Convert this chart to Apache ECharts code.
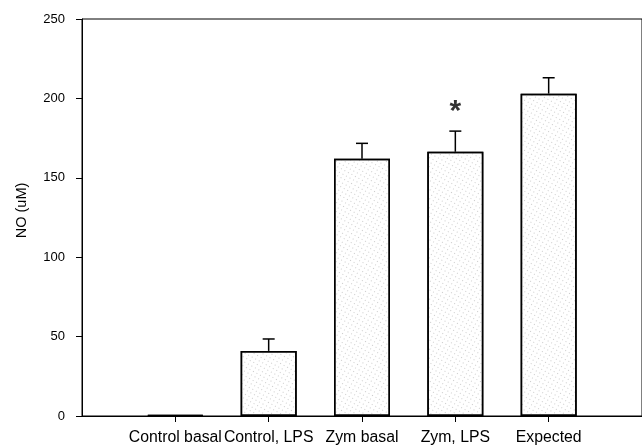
<!DOCTYPE html>
<html>
<head>
<meta charset="utf-8">
<script src="https://cdn.jsdelivr.net/npm/echarts@6/dist/echarts.min.js"></script>
<style>html,body{margin:0;padding:0;background:#fff}#c{width:642px;height:447px}</style>
</head>
<body>
<div id="c"></div>
<script>
const categories = ['Control basal', 'Control, LPS', 'Zym basal', 'Zym, LPS', 'Expected'];
const means = [0.6, 41, 162, 166.4, 203];
const upperErrors = [0, 7.5, 9.7, 13, 10];
const yTicks = [0, 50, 100, 150, 200, 250];
const starCategory = 'Zym, LPS';
const starValue = 196;

const axisCats = [''].concat(categories, ['']);
const barData = [null].concat(means, [null]);
const errData = categories.map((c, i) => [c, means[i], means[i] + upperErrors[i]]).filter((d, i) => upperErrors[i] > 0);
const font = "'Liberation Sans', Arial, sans-serif";

const chart = echarts.init(document.getElementById('c'));
chart.setOption({
  animation: false,
  backgroundColor: '#fff',
  grid: { left: 82, right: -4, top: 19, bottom: 31, show: true, borderColor: '#000', borderWidth: 1, backgroundColor: 'transparent' },
  xAxis: {
    type: 'category',
    data: axisCats,
    boundaryGap: false,
    axisLine: { lineStyle: { color: '#000', width: 1 } },
    axisTick: { length: 6, lineStyle: { color: '#000' }, interval: (i, v) => v !== '' },
    axisLabel: { interval: (i, v) => v !== '', color: '#000', fontSize: 15.8, fontFamily: font, margin: 14 },
    splitLine: { show: false }
  },
  yAxis: {
    type: 'value',
    min: yTicks[0], max: yTicks[yTicks.length - 1], interval: 50,
    name: 'NO (uM)',
    nameLocation: 'middle',
    nameGap: 53,
    nameTextStyle: { color: '#000', fontSize: 14.5, fontFamily: font, padding: [0, 0, 0, 14] },
    axisLine: { show: true, lineStyle: { color: '#000', width: 1 } },
    axisTick: { show: true, length: 6, lineStyle: { color: '#000' } },
    axisLabel: { color: '#000', fontSize: 13, fontFamily: font, margin: 17 },
    splitLine: { show: false }
  },
  series: [
    {
      type: 'bar',
      data: barData,
      barWidth: 56,
      itemStyle: {
        color: '#fff',
        borderColor: '#000',
        borderWidth: 1.5,
        decal: { symbol: 'rect', symbolSize: 1, dashArrayX: [1, 3], dashArrayY: [1, 3], rotation: 0.5, color: 'rgba(110,110,110,0.35)' }
      },
      z: 2
    },
    {
      type: 'custom',
      data: errData,
      z: 3,
      renderItem: function (params, api) {
        const base = api.coord([api.value(0), api.value(1)]);
        const top = api.coord([api.value(0), api.value(2)]);
        const hw = 6;
        return {
          type: 'group',
          children: [
            { type: 'line', shape: { x1: base[0], y1: base[1], x2: top[0], y2: top[1] }, style: { stroke: '#000', lineWidth: 1.5 } },
            { type: 'line', shape: { x1: top[0] - hw, y1: top[1], x2: top[0] + hw, y2: top[1] }, style: { stroke: '#000', lineWidth: 1.5 } }
          ]
        };
      }
    },
    {
      type: 'scatter',
      data: [[starCategory, starValue]],
      symbolSize: 0,
      label: { show: true, position: 'inside', formatter: '*', fontSize: 30, fontWeight: 'bold', color: '#000', fontFamily: font, offset: [0, 7] },
      z: 4
    }
  ]
});
</script>
</body>
</html>
